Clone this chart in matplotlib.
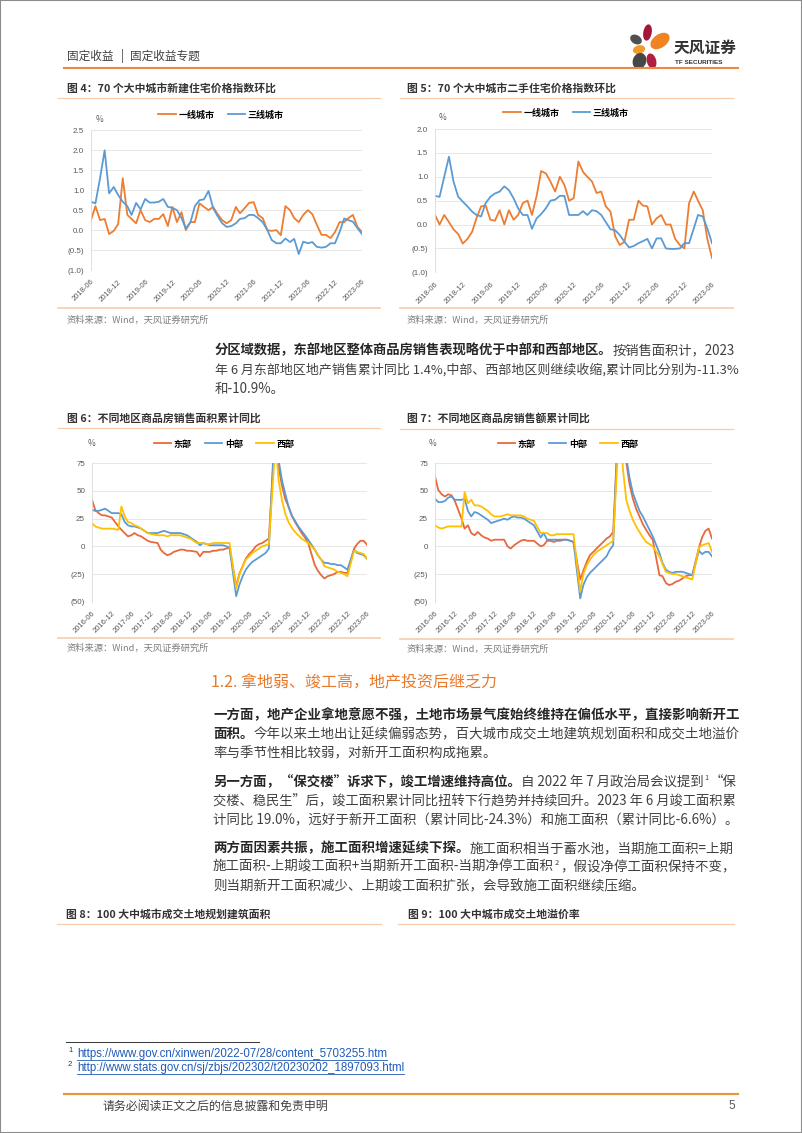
import matplotlib
matplotlib.use('Agg')
import matplotlib.pyplot as plt
from matplotlib.lines import Line2D
from matplotlib.patches import Ellipse, Rectangle
from matplotlib.font_manager import FontProperties
import pandas as pd

CJK = ['Noto Sans CJK SC', 'DejaVu Sans']
plt.rcParams['font.family'] = CJK

# === ДАННЫЕ ===
# 70 городов: месячный индекс цен (2018-06 .. 2023-06)
months_a = pd.date_range('2018-06-01', '2023-06-01', freq='MS')
ticks_a = pd.date_range('2018-06-01', '2023-06-01', freq='6MS')
new_tier1 = [0.25, 0.6, 0.25, 0.28, -0.1, -0.02, 0.15, 1.3, 0.38, 0.28,
             0.17, 0.5, 0.25, 0.2, 0.28, 0.28, 0.4, 0.1, 0.58, 0.2,
             0.45, 0.0, 0.2, 0.2, 0.67, 0.58, 0.5, 0.58, 0.4, 0.25,
             0.17, 0.25, 0.58, 0.42, 0.55, 0.68, 0.7, 0.38, 0.3, 0.0,
             -0.02, 0.0, -0.13, 0.6, 0.5, 0.3, 0.2, 0.38, 0.5, 0.4,
             0.13, -0.12, -0.12, -0.2, -0.05, 0.2, 0.2, 0.3, 0.38, 0.08, -0.05]
new_tier3 = [0.71, 0.67, 1.3, 2.0, 0.92, 1.08, 0.88, 0.71, 0.6, 0.38,
             0.68, 0.52, 0.78, 0.69, 0.69, 0.71, 0.78, 0.58, 0.56, 0.5,
             0.3, 0.04, 0.2, 0.6, 0.75, 0.77, 0.98, 0.55, 0.35, 0.17,
             0.08, 0.1, 0.17, 0.28, 0.3, 0.38, 0.38, 0.3, 0.2, 0.0,
             -0.25, -0.33, -0.33, -0.21, -0.3, -0.22, -0.6, -0.29, -0.33, -0.3,
             -0.42, -0.44, -0.42, -0.33, -0.33, -0.05, 0.29, 0.25, 0.21, 0.05, -0.1]
sec_tier1 = [0.2, 0.0, 0.2, 0.05, -0.1, -0.2, -0.4, -0.3, -0.15, 0.13,
             0.38, 0.4, 0.1, 0.08, 0.3, 0.0, 0.3, 0.1, 0.2, 0.45,
             0.5, 0.2, 0.6, 1.12, 1.07, 0.9, 0.69, 1.0, 0.83, 0.5,
             0.55, 1.32, 1.1, 1.0, 0.9, 0.66, 0.69, 0.38, 0.27, -0.25,
             -0.43, -0.36, 0.1, 0.1, 0.5, 0.4, 0.38, 0.0, 0.13, 0.2,
             0.0, 0.0, -0.3, -0.43, -0.5, 0.45, 0.69, 0.5, 0.3, -0.3, -0.7]
sec_tier3 = [0.6, 0.58, 1.0, 1.42, 0.9, 0.58, 0.48, 0.38, 0.27, 0.2,
             0.17, 0.45, 0.58, 0.65, 0.69, 0.8, 0.72, 0.55, 0.34, 0.2,
             0.2, -0.09, 0.13, 0.22, 0.34, 0.5, 0.52, 0.6, 0.6, 0.2,
             0.2, 0.2, 0.28, 0.2, 0.3, 0.28, 0.2, 0.05, -0.1, -0.12,
             -0.22, -0.36, -0.48, -0.45, -0.39, -0.35, -0.3, -0.5, -0.29, -0.29,
             -0.5, -0.51, -0.51, -0.5, -0.39, -0.39, -0.08, 0.2, 0.17, -0.08, -0.39]
yt_new = [-1.0, -0.5, 0.0, 0.5, 1.0, 1.5, 2.0, 2.5]
yt_sec = [-1.0, -0.5, 0.0, 0.5, 1.0, 1.5, 2.0]

# продажи по регионам, накопленным итогом г/г (без января)
months_b = [d for d in pd.date_range('2016-06-01', '2023-06-01', freq='MS') if d.month != 1]
ticks_b = pd.date_range('2016-06-01', '2023-06-01', freq='6MS')
area_east = [42, 33, 30, 28, 28, 27, 26,
             18, 15, 12, 9, 10, 12, 10, 9, 7, 5, 4,
             3, -3, -6, -8, -7, -5, -4, -3, -3, -4, -4,
             -5, -9, -5, -5, -5, -4, -4, -3, -3, -2, -1,
             -36, -25, -18, -11, -7, -4, 0, 2, 3, 5, 7,
             110, 72, 55, 43, 36, 28, 22, 17, 12, 8, 3,
             -17, -22, -26, -29, -27, -26, -25, -23, -23, -24, -24,
             -2, 2, 5, 5, 1.4]
area_mid = [33, 32, 32, 33, 34, 32, 30,
            30, 29, 22, 19, 18, 18, 17, 16, 14, 12, 12,
            12, 13, 14, 13, 12, 12, 12, 12, 11, 10, 8,
            4, 1, 3, 2, 1, 1, 1, 1, 1, 0, -1,
            -45, -35, -27, -21, -17, -14, -12, -10, -8, -6, -2,
            125, 78, 60, 48, 36, 28, 23, 18, 14, 10, 6,
            -3, -8, -12, -15, -15, -16, -16, -17, -17, -19, -21,
            -3, -6, -7, -8, -11.3]
area_west = [21, 18, 17, 16, 16, 16, 16,
             15, 36, 27, 22, 21, 19, 18, 16, 14, 12, 11,
             10, 10, 10, 9, 10, 10, 10, 10, 9, 8, 7,
             3, 3, 3, 2, 2, 3, 3, 3, 3, 3, 3,
             -38, -26, -18, -12, -9, -6, -4, -2, 0, 1, 2,
             95, 60, 42, 30, 22, 17, 13, 10, 7, 5, 3,
             -3, -8, -12, -18, -19, -20, -21, -23, -24, -25, -27,
             -4, -5, -6, -7, -10.9]
amt_east = [63, 51, 47, 45, 47, 46, 41,
            25, 16, 19, 12, 10, 13, 10, 8, 7, 5, 6,
            6, 6, 0, -2, 1, 3, 5, 6, 5, 5, 5,
            0, 1, 5, 5, 4, 5, 5, 6, 6, 5, 4,
            -30, -22, -14, -8, -5, -2, 1, 4, 7, 9, 13,
            140, 98, 76, 56, 43, 34, 27, 20, 15, 10, 6,
            -26, -27, -33, -35, -34, -32, -31, -29, -27, -26, -26,
            -1, 8, 14, 16, 7]
amt_mid = [43, 40, 40, 41, 44, 45, 42,
           42, 43, 32, 27, 31, 30, 28, 26, 24, 21, 22,
           24, 25, 24, 26, 27, 26, 26, 25, 23, 21, 19,
           8, 12, 6, 6, 6, 6, 6, 6, 6, 5, 4,
           -47, -35, -28, -24, -21, -18, -15, -12, -9, -3, 1,
           150, 105, 80, 62, 48, 40, 32, 27, 21, 15, 9,
           -6, -15, -21, -23, -24, -23, -23, -23, -24, -25, -26,
           -4, -7, -5, -5, -9]
amt_west = [19, 17, 16, 17, 18, 18, 18,
            18, 49, 39, 42, 37, 37, 36, 34, 32, 29, 27,
            27, 28, 29, 28, 28, 28, 28, 27, 25, 24, 23,
            12, 12, 12, 10, 10, 11, 11, 11, 11, 11, 11,
            -41, -25, -17, -12, -8, -5, -3, -1, 1, 3, 5,
            120, 70, 42, 32, 24, 18, 13, 8, 4, 2, 0,
            -9, -16, -23, -24, -25, -25, -26, -27, -28, -29, -30,
            -1, 1, 2, 3, -5]
yt_sales = [-50, -25, 0, 25, 50, 75]

ORANGE, BLUE, YELLOW, RED = '#ED7D31', '#5B9BD5', '#FFC000', '#E9693A'
REG, BOLD = '#404040', '#262626'
PEACH = '#F8CBAD'

W, H = 802, 1133
fig = plt.figure(figsize=(W / 100, H / 100), dpi=100)
renderer = fig.canvas.get_renderer()


def fx(x):
    return x / W


def fy(y):
    return 1 - y / H


def hline(x0, x1, y, color, lw):
    fig.add_artist(Line2D([fx(x0), fx(x1)], [fy(y), fy(y)], color=color, lw=lw,
                          transform=fig.transFigure))


def txt(x, y, s, size, color=REG, weight='normal', ha='left', family=None):
    return fig.text(fx(x), fy(y), s, fontsize=size, color=color, fontweight=weight,
                    ha=ha, va='center', family=family or CJK)


def width(s, size, weight='normal'):
    t = txt(0, 0, s, size, weight=weight)
    w = t.get_window_extent(renderer).width
    t.remove()
    return w


def rich(x0, y, pieces, size=9.7, right=738):
    def draw(sz):
        arts, x = [], x0
        for s, st in pieces:
            if st == 'sup':
                arts.append(txt(x + 0.5, y - 4, s, sz * 0.55))
                x += width(s, sz * 0.55) + 1.5
            else:
                wt = 'bold' if st == 'b' else 'normal'
                arts.append(txt(x, y, s, sz, BOLD if st == 'b' else REG, wt))
                x += width(s + '国', sz, wt) - width('国', sz, wt)
        return arts, x
    arts, xe = draw(size)
    if xe > right + 2:
        for a in arts:
            a.remove()
        draw(size * (right - x0) / (xe - x0))


def ylab(v, dec):
    s = f"{abs(v):.{dec}f}"
    return f"({s})" if v < 0 else s


def chart(box, x, series, colors, names, yticks, dec, xticks, leg_xy, pct_xy):
    x0, y0, x1, y1 = box
    ax = fig.add_axes([fx(x0), fy(y1), (x1 - x0) / W, (y1 - y0) / H])
    for vals, c, n in zip(series, colors, names):
        ax.plot(x, vals, color=c, lw=1.3, label=n, solid_joinstyle='round')
    ax.set_xlim(x[0], x[-1])
    ax.set_ylim(yticks[0], yticks[-1])
    ax.set_yticks(yticks)
    ax.set_yticklabels([ylab(v, dec) for v in yticks], family='Liberation Sans',
                       fontsize=5.8, color='#595959')
    ax.set_xticks(xticks)
    ax.set_xticklabels([d.strftime('%Y-%m') for d in xticks], rotation=45, ha='right',
                       rotation_mode='anchor', family='Liberation Sans', fontsize=5.5,
                       color='#595959')
    ax.tick_params(axis='y', length=0, pad=5)
    ax.tick_params(axis='x', length=0, pad=6)
    ax.grid(axis='y', color='#E3E3E3', lw=0.6)
    for s in ['top', 'right', 'bottom']:
        ax.spines[s].set_visible(False)
    ax.spines['left'].set_color('#D9D9D9')
    ax.spines['left'].set_linewidth(0.6)
    ax.set_facecolor('none')
    ax.legend(loc='center', bbox_to_anchor=(fx(leg_xy[0]), fy(leg_xy[1])),
              bbox_transform=fig.transFigure, ncol=len(names), frameon=False,
              prop=FontProperties(family=CJK, weight='bold', size=6.5),
              handlelength=1.9, handletextpad=0.3, columnspacing=1.5,
              borderpad=0, borderaxespad=0)
    txt(pct_xy[0], pct_xy[1], '%', 6, '#595959', ha='center')
    return ax


def frame(title, tx, ty, lx0, lx1, ly, by=None, sy=None):
    txt(tx, ty, title, 7.8, '#333333', 'bold')
    hline(lx0, lx1, ly, PEACH, 0.9)
    if by is not None:
        hline(lx0, lx1, by, PEACH, 1.2)
        txt(tx, sy, '资料来源：Wind，天风证券研究所', 6.7, '#7F7F7F')


# === ШАПКА ===
fig.add_artist(Rectangle((0, 0), 1, 1, transform=fig.transFigure, fill=False,
                         edgecolor='#8C8C8C', lw=1.5))
txt(67, 56, '固定收益', 8.4, '#404040')
txt(122, 56, '|', 8.4, '#404040', ha='center')
txt(130, 56, '固定收益专题', 8.4, '#404040')
hline(64, 738, 68, '#EE8A3C', 1.5)
logo = fig.add_axes([fx(625), fy(72), 50 / W, 57 / H])
logo.set_xlim(625, 675)
logo.set_ylim(72, 15)
logo.axis('off')
petals = [((647.5, 32.5), 7, 15, 10, '#A3173B'),
          ((636, 39.5), 11, 7.5, 30, '#505050'),
          ((660, 41), 20, 12, -35, '#EF8420'),
          ((639, 49.5), 11, 7, -15, '#F39A2B'),
          ((639.5, 61), 12, 15, 20, '#474747'),
          ((651.5, 61), 8, 14, -15, '#B21E40')]
for c, w, h, a, col in petals:
    logo.add_patch(Ellipse(c, w, h, angle=a, color=col))
txt(674, 48, '天风证券', 11.3, '#333333', 'bold')
txt(675, 62, 'TF SECURITIES', 4.6, '#333333', 'bold', family='Liberation Sans')

# === ГРАФИКИ 4-7 ===
frame('图 4：70 个大中城市新建住宅价格指数环比', 66.7, 88.3, 58, 380, 98.3, 308.3, 320)
chart((91, 130.3, 362, 270), months_a, [new_tier1, new_tier3], [ORANGE, BLUE],
      ['一线城市', '三线城市'], yt_new, 1, ticks_a, (221, 115), (99, 120))

frame('图 5：70 个大中城市二手住宅价格指数环比', 406.7, 88.3, 400, 733, 98.3, 308.3, 320)
chart((435, 129, 712, 272.3), months_a, [sec_tier1, sec_tier3], [ORANGE, BLUE],
      ['一线城市', '三线城市'], yt_sec, 1, ticks_a, (566, 113), (443, 118))

frame('图 6：不同地区商品房销售面积累计同比', 66.7, 418.3, 58, 380, 428.3, 638.3, 648.3)
chart((92, 463.3, 367, 601.7), months_b, [area_east, area_mid, area_west],
      [RED, BLUE, YELLOW], ['东部', '中部', '西部'], yt_sales, 0, ticks_b,
      (224, 444), (92, 444))

frame('图 7：不同地区商品房销售额累计同比', 406.7, 418.3, 400, 733, 429, 639, 649)
chart((435, 463.3, 712, 601.7), months_b, [amt_east, amt_mid, amt_west],
      [RED, BLUE, YELLOW], ['东部', '中部', '西部'], yt_sales, 0, ticks_b,
      (568, 444), (433, 444))

# === ТЕКСТ ===
rich(215, 350, [("分区域数据，东部地区整体商品房销售表现略优于中部和西部地区。", 'b'),
                ("按销售面积计，2023", 'r')])
rich(215, 370, [("年 6 月东部地区地产销售累计同比 1.4%,中部、西部地区则继续收缩,累计同比分别为-11.3%", 'r')])
rich(215, 389, [("和-10.9%。", 'r')])

txt(211, 683, '1.2. 拿地弱、竣工高，地产投资后继乏力', 11.5, '#E8792A')

rich(213, 715, [("一方面，地产企业拿地意愿不强，土地市场景气度始终维持在偏低水平，直接影响新开工", 'b')])
rich(213, 734, [("面积。", 'b'), ("今年以来土地出让延续偏弱态势，百大城市成交土地建筑规划面积和成交土地溢价", 'r')])
rich(213, 753, [("率与季节性相比较弱，对新开工面积构成拖累。", 'r')])

rich(213, 782, [("另一方面，“保交楼”诉求下，竣工增速维持高位。", 'b'),
                ("自 2022 年 7 月政治局会议提到", 'r'), ("1", 'sup'), ("“保", 'r')])
rich(213, 801, [("交楼、稳民生”后，竣工面积累计同比扭转下行趋势并持续回升。2023 年 6 月竣工面积累", 'r')])
rich(213, 820, [("计同比 19.0%，远好于新开工面积（累计同比-24.3%）和施工面积（累计同比-6.6%）。", 'r')])

rich(213, 848, [("两方面因素共振，施工面积增速延续下探。", 'b'),
                ("施工面积相当于蓄水池，当期施工面积=上期", 'r')])
rich(213, 867, [("施工面积-上期竣工面积+当期新开工面积-当期净停工面积", 'r'), ("2", 'sup'),
                ("，假设净停工面积保持不变，", 'r')])
rich(213, 886, [("则当期新开工面积减少、上期竣工面积扩张，会导致施工面积继续压缩。", 'r')])

frame('图 8：100 大中城市成交土地规划建筑面积', 66.5, 914, 57, 381, 924)
frame('图 9：100 大中城市成交土地溢价率', 407.6, 914, 398, 734, 924)

# === СНОСКИ И ПОДВАЛ ===
hline(66, 259, 1042, '#333333', 0.7)
for num, url, y in [('1', 'https://www.gov.cn/xinwen/2022-07/28/content_5703255.htm', 1054),
                    ('2', 'http://www.stats.gov.cn/sj/zbjs/202302/t20230202_1897093.html', 1068)]:
    txt(68, y - 3, num, 5.5, '#333333', family='Liberation Sans')
    t = txt(77, y, url, 8.3, '#1F5BB8', family='Liberation Sans')
    bb = t.get_window_extent(renderer)
    hline(77, 77 + bb.width, y + 6, '#1F5BB8', 0.6)

hline(64, 738, 1094, '#E59A3B', 1.6)
txt(103, 1106, '请务必阅读正文之后的信息披露和免责申明', 8.6, '#404040')
txt(735, 1106, '5', 8.6, '#595959', ha='right', family='Liberation Sans')

plt.savefig('out.png', dpi=100)
